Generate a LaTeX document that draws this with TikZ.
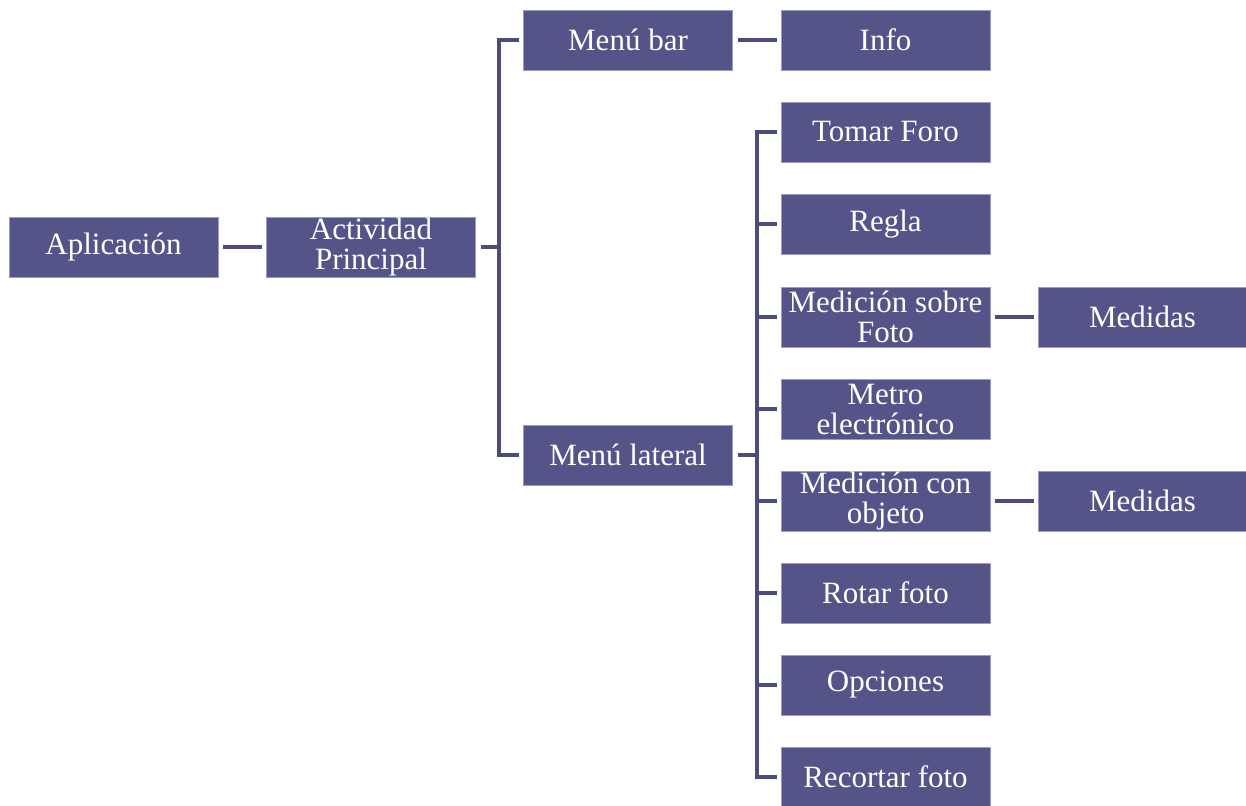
\documentclass[tikz,border=0pt]{standalone}
\usepackage{fontspec}
\setmainfont{Liberation Serif}
\definecolor{boxfill}{HTML}{545489}
\definecolor{boxedge}{HTML}{9A9AC2}
\definecolor{linkcol}{HTML}{4B4B7C}
\begin{document}
\begin{tikzpicture}[x=1pt,y=-1pt,
  item/.style={rectangle, fill=boxfill, draw=boxedge, line width=0.8pt,
    minimum width=209pt, minimum height=60pt, inner sep=0pt,
    text=white, align=center, font=\fontsize{31}{30}\selectfont},
  link/.style={draw=linkcol, line width=4pt}]
\useasboundingbox (0,0) rectangle (1246,805);

% level 1 and 2
\node[item] (app) at (113.5,247) {Aplicación};
\node[item] (act) at (371,247) {Actividad\\Principal};

% menus
\node[item] (mbar) at (628,40) {Menú bar};
\node[item] (mlat) at (628,455) {Menú lateral};
\node[item] (info) at (885.5,40) {Info};

% side menu entries
\node[item] (c1) at (885.5,132) {Tomar Foro};
\node[item] (c2) at (885.5,224) {Regla};
\node[item] (c3) at (885.5,317) {Medición sobre\\Foto};
\node[item] (c4) at (885.5,409) {Metro\\electrónico};
\node[item] (c5) at (885.5,501) {Medición con\\objeto};
\node[item] (c6) at (885.5,593) {Rotar foto};
\node[item] (c7) at (885.5,685) {Opciones};
\node[item] (c8) at (885.5,777) {Recortar foto};

% results
\node[item] (m1) at (1142.5,317) {Medidas};
\node[item] (m2) at (1142.5,501) {Medidas};

% bus lines
\coordinate (busA) at (499,0);
\coordinate (busB) at (757,0);

% connectors
\draw[link] ([xshift=5pt]app.east) -- ([xshift=-4pt]act.west);
\draw[link] ([xshift=5pt]act.east) -- (busA |- act.east);
\draw[link] ([xshift=-4pt]mbar.west) -| (busA |- mlat.west) -- ([xshift=-4pt]mlat.west);
\draw[link] ([xshift=5pt]mbar.east) -- ([xshift=-4pt]info.west);
\draw[link] ([xshift=5pt]mlat.east) -- (busB |- mlat.east);
\draw[link] ([xshift=-4pt]c1.west) -| (busB |- c8.west) -- ([xshift=-4pt]c8.west);
\foreach \c in {c2,c3,c4,c5,c6,c7}
  \draw[link] (busB |- \c.west) -- ([xshift=-4pt]\c.west);
\draw[link] ([xshift=5pt]c3.east) -- ([xshift=-4pt]m1.west);
\draw[link] ([xshift=5pt]c5.east) -- ([xshift=-4pt]m2.west);
\end{tikzpicture}
\end{document}
